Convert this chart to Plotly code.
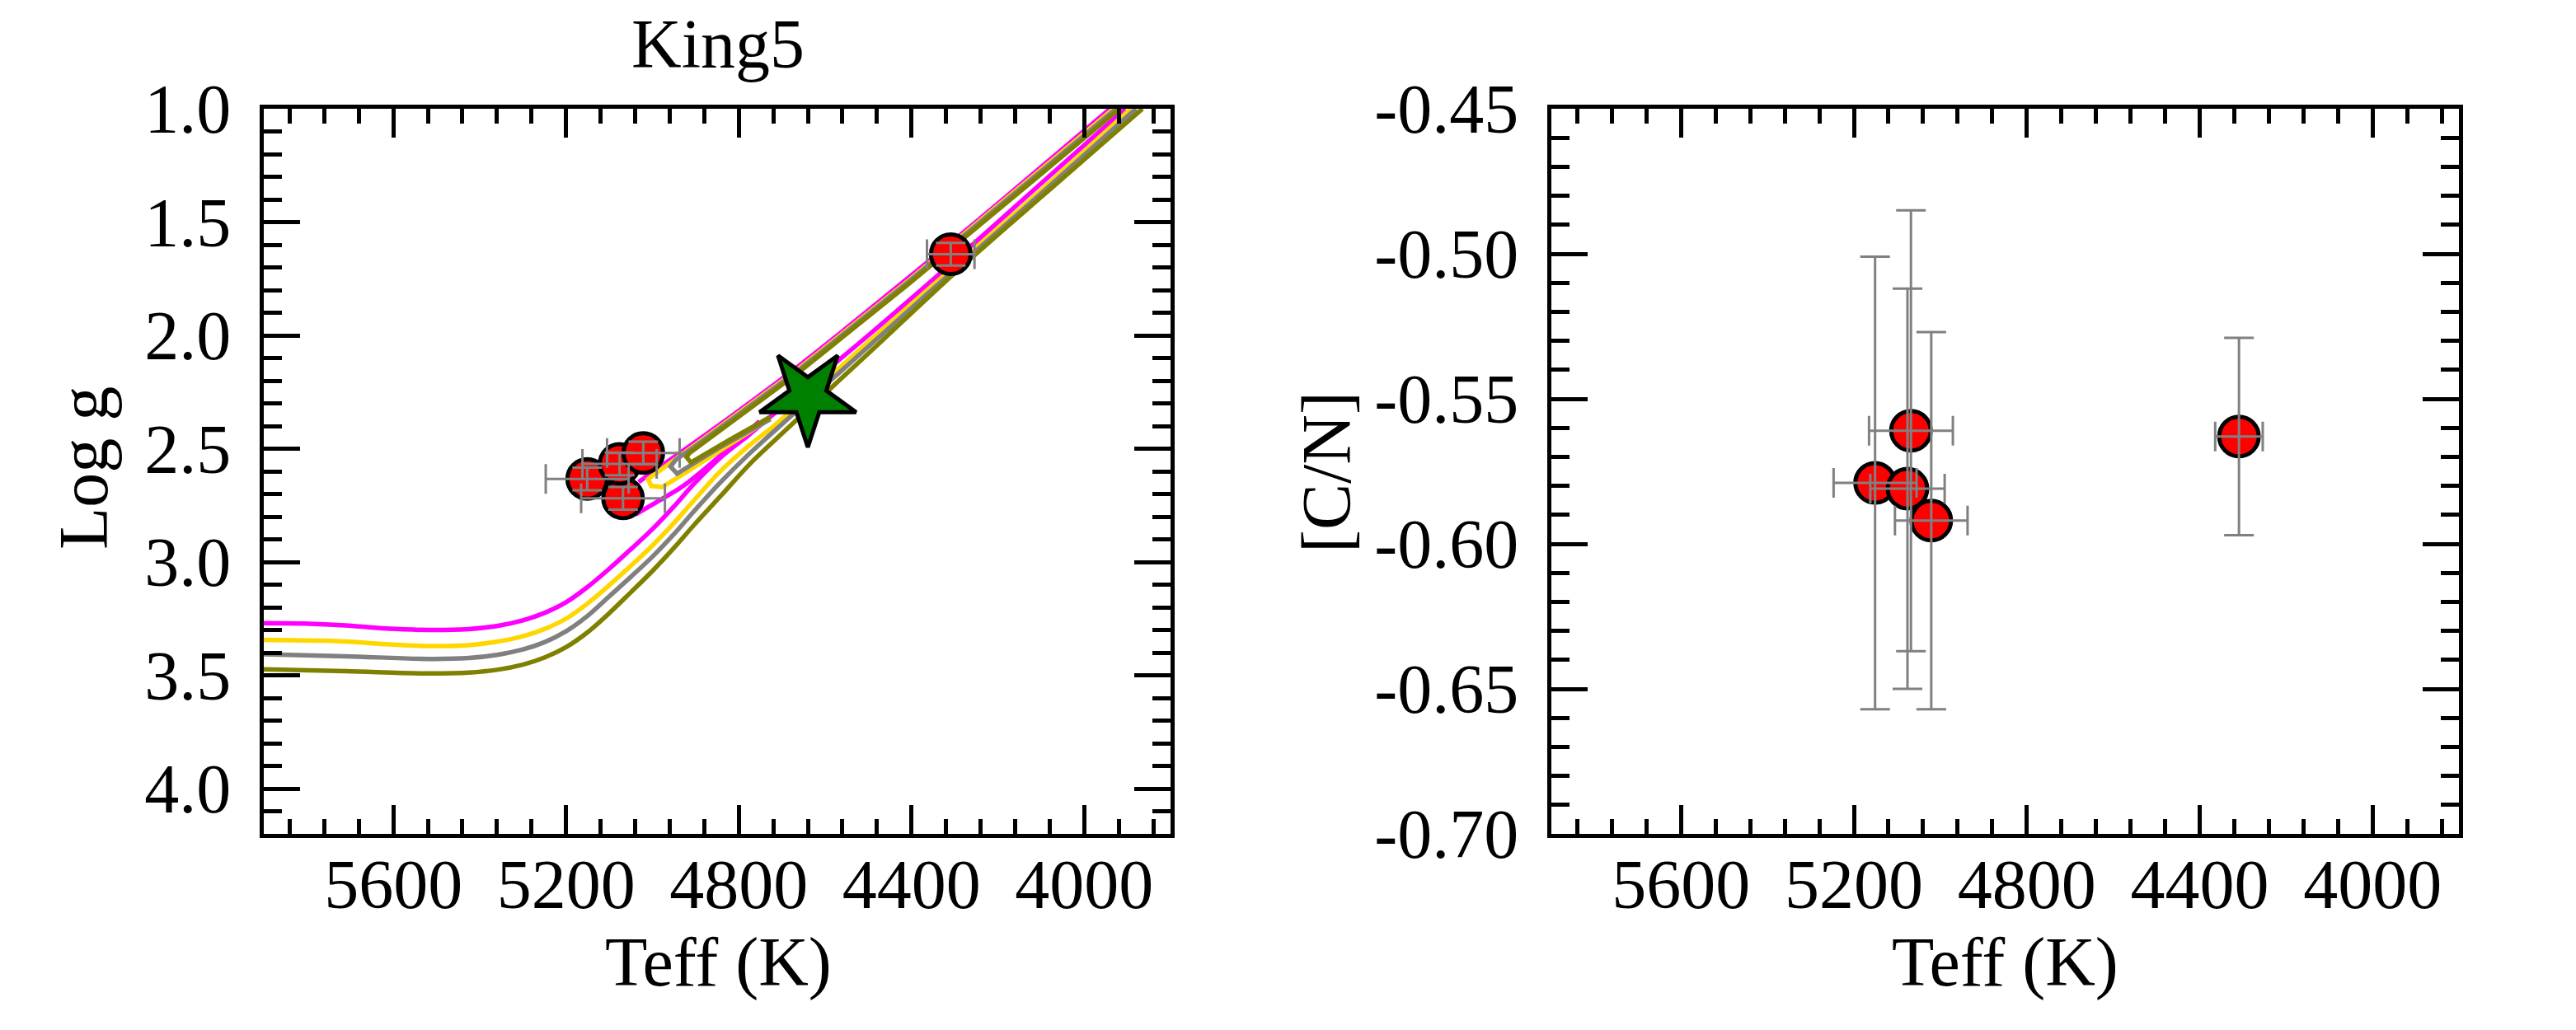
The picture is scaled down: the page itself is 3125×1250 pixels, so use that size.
import plotly.graph_objects as go

# ---------------- data ----------------
# Observed stars (King 5)
star_teff = [5151, 5068, 5076, 5021, 4309]
star_teff_err = [96, 97, 86, 84, 55]
star_logg = [2.634, 2.719, 2.567, 2.519, 1.642]
star_logg_err = [0.05, 0.05, 0.05, 0.05, 0.05]
star_cn = [-0.579, -0.561, -0.581, -0.592, -0.563]
star_cn_err = [0.078, 0.076, 0.069, 0.065, 0.034]

# Reference point (green star)
ref_teff = [4640]
ref_logg = [2.27]

# Isochrones: SGB + RGB
mag_rgb_teff = [5900, 5806, 5711, 5616, 5520, 5425, 5360, 5300, 5250, 5200, 5150, 5100, 5050, 5000, 4950, 4905, 4841, 4777, 4727, 4500, 4300, 4100, 3905]
mag_rgb_logg = [3.270, 3.272, 3.280, 3.294, 3.300, 3.296, 3.283, 3.258, 3.225, 3.178, 3.110, 3.030, 2.944, 2.855, 2.755, 2.658, 2.537, 2.440, 2.360, 2.000, 1.670, 1.330, 1.000]
gold_rgb_teff = [5900, 5711, 5616, 5520, 5425, 5360, 5300, 5250, 5200, 5150, 5100, 5050, 5000, 4950, 4905, 4841, 4777, 4714, 4500, 4300, 4100, 3892]
gold_rgb_logg = [3.344, 3.351, 3.363, 3.371, 3.367, 3.352, 3.328, 3.296, 3.250, 3.183, 3.103, 3.017, 2.928, 2.828, 2.731, 2.597, 2.488, 2.392, 2.030, 1.695, 1.360, 1.000]
gray_rgb_teff = [5900, 5711, 5520, 5425, 5360, 5300, 5250, 5200, 5150, 5100, 5050, 5000, 4950, 4905, 4841, 4777, 4714, 4500, 4300, 4100, 3880]
gray_rgb_logg = [3.407, 3.416, 3.428, 3.424, 3.410, 3.386, 3.354, 3.306, 3.238, 3.152, 3.066, 2.977, 2.877, 2.779, 2.646, 2.525, 2.416, 2.050, 1.710, 1.375, 1.000]
olive_rgb_teff = [5900, 5711, 5520, 5425, 5360, 5300, 5250, 5200, 5150, 5100, 5050, 5000, 4950, 4905, 4841, 4777, 4714, 4500, 4300, 4100, 3865]
olive_rgb_logg = [3.474, 3.482, 3.492, 3.488, 3.476, 3.453, 3.422, 3.376, 3.310, 3.226, 3.134, 3.040, 2.938, 2.840, 2.707, 2.573, 2.458, 2.080, 1.725, 1.390, 1.000]

# Isochrones: red clump + AGB branches
mag_agb_teff = [3940, 4180, 4409, 4663, 4816, 4900, 5032]
mag_agb_logg = [1.000, 1.387, 1.749, 2.138, 2.355, 2.470, 2.647]
mag_zahb_teff = [5039, 4975, 4924, 4752]
mag_zahb_logg = [2.790, 2.719, 2.658, 2.379]
gold_hb_teff = [3932, 4180, 4409, 4663, 4816, 4900, 4987, 5010, 5003, 4978, 4937, 4850, 4727]
gold_hb_logg = [1.000, 1.399, 1.761, 2.150, 2.367, 2.482, 2.603, 2.634, 2.664, 2.670, 2.622, 2.515, 2.367]
gray_hb_teff = [3926, 4180, 4409, 4663, 4816, 4900, 4946, 4958, 4943, 4840, 4727]
gray_hb_logg = [1.000, 1.405, 1.767, 2.156, 2.373, 2.488, 2.549, 2.579, 2.610, 2.490, 2.370]
olive_hb_teff = [3918, 4180, 4409, 4663, 4816, 4914, 4921, 4911, 4820, 4727]
olive_hb_logg = [1.000, 1.415, 1.777, 2.166, 2.383, 2.519, 2.537, 2.561, 2.460, 2.360]

# Tick labels
teff_tickvals = [5600, 5200, 4800, 4400, 4000]
teff_ticktext = ["5600", "5200", "4800", "4400", "4000"]
logg_tickvals = [1.0, 1.5, 2.0, 2.5, 3.0, 3.5, 4.0]
logg_ticktext = ["1.0", "1.5", "2.0", "2.5", "3.0", "3.5", "4.0"]
cn_tickvals = [-0.70, -0.65, -0.60, -0.55, -0.50, -0.45]
cn_ticktext = ["-0.70", "-0.65", "-0.60", "-0.55", "-0.50", "-0.45"]

# ---------------- styles ----------------
FONT = "Liberation Serif"
FS = 84
W, H = 3125, 1250
iso_colors = {"mag": "#FF00FF", "gold": "#FFD700", "gray": "#808080", "olive": "#808000"}
LW = 5.5

fig = go.Figure()

def add_line(xs, ys, color, smooth=False):
    line = dict(color=color, width=LW)
    if smooth:
        line.update(shape="spline", smoothing=1.0)
    fig.add_trace(go.Scatter(x=xs, y=ys, mode="lines", line=line,
                             xaxis="x", yaxis="y", showlegend=False, hoverinfo="skip"))

add_line(mag_rgb_teff, mag_rgb_logg, iso_colors["mag"], True)
add_line(mag_agb_teff, mag_agb_logg, iso_colors["mag"], True)
add_line(mag_zahb_teff, mag_zahb_logg, iso_colors["mag"], True)
add_line(gold_rgb_teff, gold_rgb_logg, iso_colors["gold"], True)
add_line(gold_hb_teff, gold_hb_logg, iso_colors["gold"])
add_line(gray_rgb_teff, gray_rgb_logg, iso_colors["gray"], True)
add_line(gray_hb_teff, gray_hb_logg, iso_colors["gray"])
add_line(olive_rgb_teff, olive_rgb_logg, iso_colors["olive"], True)
add_line(olive_hb_teff, olive_hb_logg, iso_colors["olive"])

# green star
fig.add_trace(go.Scatter(x=ref_teff, y=ref_logg, mode="markers", xaxis="x", yaxis="y",
                         marker=dict(symbol="star", angle=180, size=88, color="#008000",
                                     line=dict(color="black", width=5)),
                         showlegend=False))

marker_style = dict(symbol="circle", size=48, color="red", line=dict(color="black", width=5))
err_style = dict(type="data", visible=True, color="#808080", thickness=3, width=18)

# left panel: markers, then error bars on top
fig.add_trace(go.Scatter(x=star_teff, y=star_logg, mode="markers", xaxis="x", yaxis="y",
                         marker=marker_style, showlegend=False))
fig.add_trace(go.Scatter(x=star_teff, y=star_logg, mode="markers", xaxis="x", yaxis="y",
                         marker=dict(size=1, color="rgba(0,0,0,0)"),
                         error_x=dict(array=star_teff_err, **err_style),
                         error_y=dict(array=star_logg_err, **err_style),
                         showlegend=False))

# right panel
fig.add_trace(go.Scatter(x=star_teff, y=star_cn, mode="markers", xaxis="x2", yaxis="y2",
                         marker=marker_style, showlegend=False))
fig.add_trace(go.Scatter(x=star_teff, y=star_cn, mode="markers", xaxis="x2", yaxis="y2",
                         marker=dict(size=1, color="rgba(0,0,0,0)"),
                         error_x=dict(array=star_teff_err, **err_style),
                         error_y=dict(array=star_cn_err, **err_style),
                         showlegend=False))

tickfont = dict(family=FONT, size=FS, color="black")

def xaxis_cfg(domain, anchor):
    return dict(domain=domain, anchor=anchor, range=[5900, 3800], autorange=False,
                tickmode="array", tickvals=teff_tickvals, ticktext=teff_ticktext,
                ticks="inside", ticklen=35, tickwidth=4.5, tickcolor="black",
                minor=dict(tickmode="linear", tick0=4000, dtick=80, ticks="inside",
                           ticklen=18, tickwidth=4.5, tickcolor="black", showgrid=False),
                showline=True, linewidth=5, linecolor="black", mirror="ticks",
                showgrid=False, zeroline=False, tickfont=tickfont, ticklabelstandoff=-16,
                automargin=False)

def yaxis_cfg(domain, anchor, rng, tv, tt, minor_d, minor_t0):
    return dict(domain=domain, anchor=anchor, range=rng, autorange=False,
                tickmode="array", tickvals=tv, ticktext=tt,
                ticks="inside", ticklen=44, tickwidth=4.5, tickcolor="black",
                minor=dict(tickmode="linear", tick0=minor_t0, dtick=minor_d, ticks="inside",
                           ticklen=22, tickwidth=4.5, tickcolor="black", showgrid=False),
                showline=True, linewidth=5, linecolor="black", mirror="ticks",
                showgrid=False, zeroline=False, tickfont=tickfont, ticklabelstandoff=18,
                automargin=False)

ydom = [1 - 1004 / H, 1 - 124 / H]
fig.update_layout(
    width=W, height=H,
    margin=dict(l=0, r=0, t=0, b=0),
    paper_bgcolor="white", plot_bgcolor="white",
    xaxis=xaxis_cfg([312 / W, 1412 / W], "y"),
    yaxis=yaxis_cfg(ydom, "x", [4.2, 1.0], logg_tickvals, logg_ticktext, 0.1, 1.0),
    xaxis2=xaxis_cfg([1874 / W, 2975 / W], "y2"),
    yaxis2=yaxis_cfg(ydom, "x2", [-0.70, -0.45], cn_tickvals, cn_ticktext, 0.01, -0.70),
    showlegend=False,
)

ann_font = dict(family=FONT, size=FS, color="black")
fig.add_annotation(text="King5", x=863 / W, y=1 - 46 / H, xref="paper", yref="paper",
                   showarrow=False, font=ann_font, xanchor="center", yanchor="middle")
fig.add_annotation(text="Teff (K)", x=863 / W, y=1 - 1160 / H, xref="paper", yref="paper",
                   showarrow=False, font=ann_font, xanchor="center", yanchor="middle")
fig.add_annotation(text="Teff (K)", x=2424 / W, y=1 - 1160 / H, xref="paper", yref="paper",
                   showarrow=False, font=ann_font, xanchor="center", yanchor="middle")
fig.add_annotation(text="Log g", x=94 / W, y=1 - 560 / H, xref="paper", yref="paper",
                   showarrow=False, font=ann_font, textangle=-90, xanchor="center", yanchor="middle")
fig.add_annotation(text="[C/N]", x=1601 / W, y=1 - 565 / H, xref="paper", yref="paper",
                   showarrow=False, font=ann_font, textangle=-90, xanchor="center", yanchor="middle")

fig.write_html("out.html")
